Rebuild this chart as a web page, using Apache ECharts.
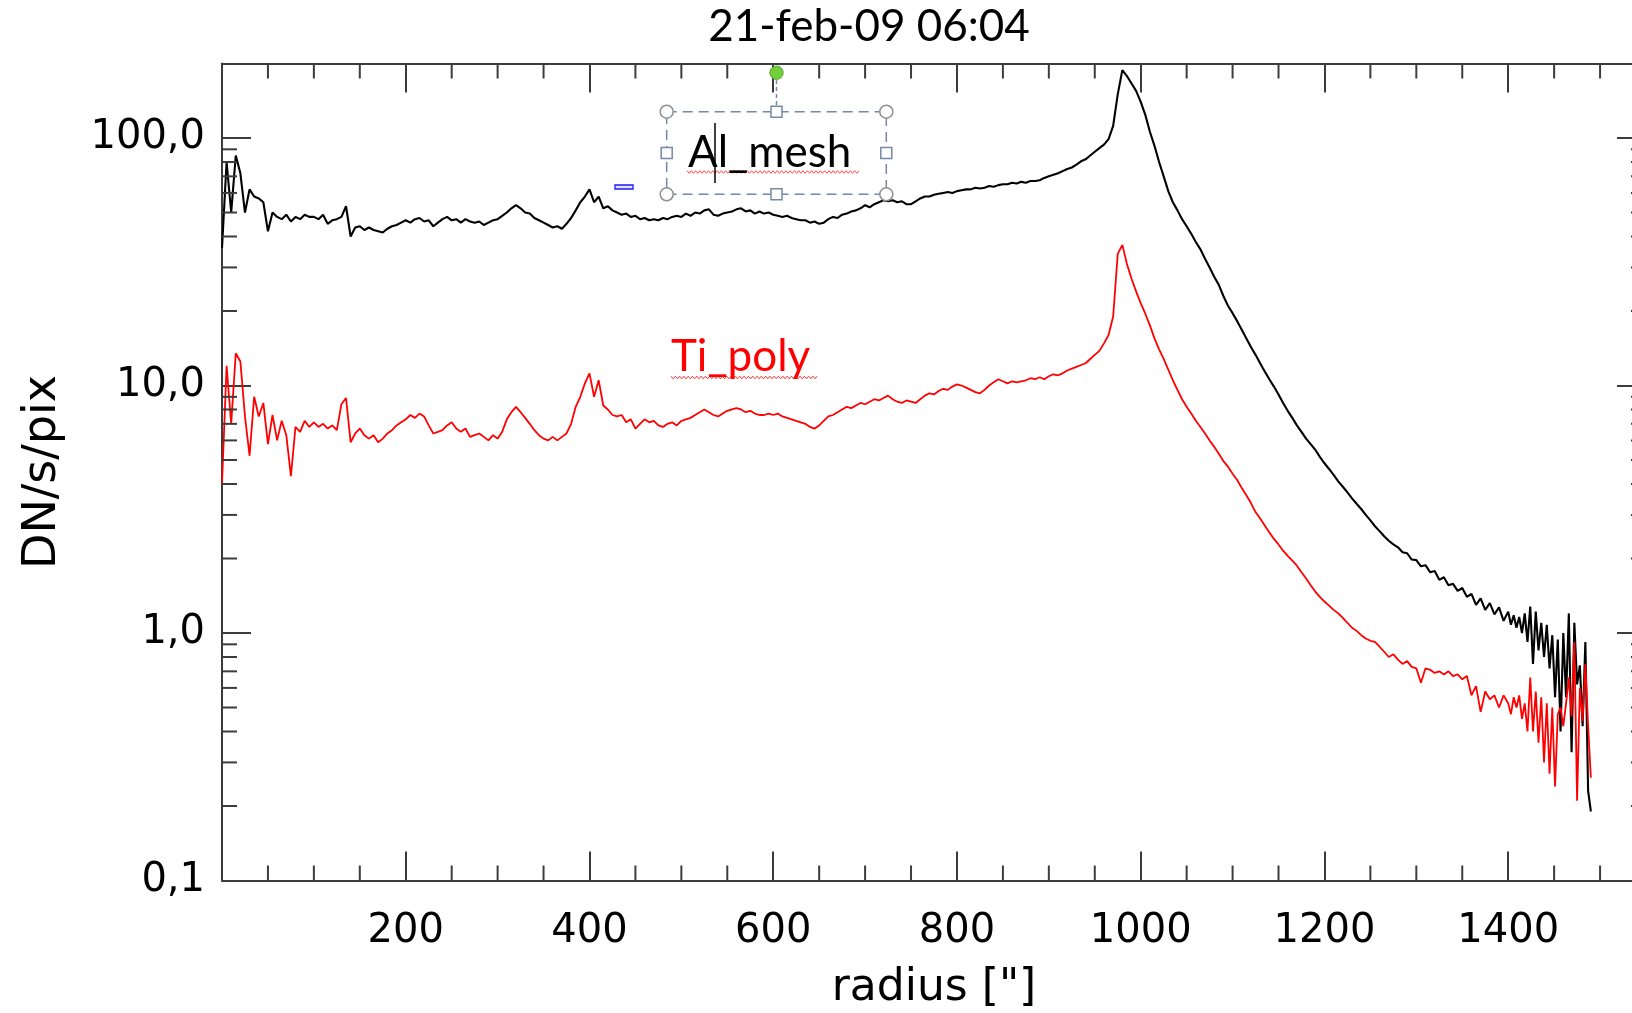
<!DOCTYPE html>
<html><head><meta charset="utf-8">
<script src="https://cdn.jsdelivr.net/npm/echarts@6/dist/echarts.min.js"></script>
<style>html,body{margin:0;padding:0;background:#fff}#c{width:1632px;height:1013px}</style>
</head><body><div id="c"></div>
<script>
// radius ["] sample positions
const radius = [
0,5,10,15,20,25,30,35,40,45,50,55,60,65,70,75,80,85,90,95,
100,105,110,115,120,125,130,135,140,145,150,155,160,165,170,175,180,185,190,195,
200,205,210,215,220,225,230,235,240,245,250,255,260,265,270,275,280,285,290,295,
300,305,310,315,320,325,330,335,340,345,350,355,360,365,370,375,380,385,390,395,
400,405,410,415,420,425,430,435,440,445,450,455,460,465,470,475,480,485,490,495,
500,505,510,515,520,525,530,535,540,545,550,555,560,565,570,575,580,585,590,595,
600,605,610,615,620,625,630,635,640,645,650,655,660,665,670,675,680,685,690,695,
700,705,710,715,720,725,730,735,740,745,750,755,760,765,770,775,780,785,790,795,
800,805,810,815,820,825,830,835,840,845,850,855,860,865,870,875,880,885,890,895,
900,905,910,915,920,925,930,935,940,945,950,955,960,965,970,975,980,985,990,995,
1000,1005,1010,1015,1020,1025,1030,1035,1040,1045,1050,1055,1060,1065,1070,1075,1080,1085,1090,1095,
1100,1105,1110,1115,1120,1125,1130,1135,1140,1145,1150,1155,1160,1165,1170,1175,1180,1185,1190,1195,
1200,1205,1210,1215,1220,1225,1230,1235,1240,1245,1250,1255,1260,1265,1270,1275,1280,1285,1290,1295,
1300,1305,1310,1315,1320,1325,1330,1335,1340,1345,1350,1355,1360,1365,1370,1375,1380,1385,1390,1395,
1400,1403,1406,1409,1412,1415,1418,1421,1424,1427,1430,1433,1436,1439,1442,1445,1448,1451,1454,1457,
1460,1463,1466,1469,1472,1475,1478,1481,1484,1487,1490
];
// Al_mesh (black) DN/s/pix
const alMesh = [
36,80,50,85,72,50,62,58,57,55,42,50,48,47,49,46,48,47,49,48,
48,47,49,45,46.5,47,48,53,40,43.5,44,42.5,43.5,42.5,42,41.5,43,44,44.5,45.5,
46.5,45.5,47,47.5,46,46.5,44,45.5,47,48,46.5,47,45.5,47,46,45.5,46,44.5,45.5,46.5,
47,48.5,50,52,53.5,52,50,49.5,47.5,46.5,45.5,44.5,43.5,44,43,45,47.5,51,55,58,
62,55,58,52,53,51,50,49,49.5,48,48.5,47,47.5,46.5,47,46.5,47.5,47,48,48.5,
48,49.5,48.5,50,49.5,51,51.5,49,48.5,49.5,50,50.5,51.5,52,50.5,51,49.5,50.5,49.5,50,
49,48.5,48,48.5,47.5,47,46.5,46.5,45.5,46,45,45.5,47,48,47.5,49,49.5,50.5,51,52,
53.5,52.5,54,55,56,55.5,56,55,55.5,54,54,55.5,57,58,58,59,59.5,60,60.5,60,
61,61.5,62,62,63,62.5,63,64,63.5,64.5,65,65,66,65.5,66.5,66,67,67,67.5,69,
70,71,72,73.5,75,76,78,80.5,82,85,88,91,94,99,112,150,188,178,166,155,
140,124,106,93,80,70,61,55,51,47,44,41,38,35.5,32.5,30,27.5,25.5,23,21,
19.6,18.2,16.8,15.5,14.3,13.3,12.3,11.4,10.6,9.9,9.2,8.5,7.9,7.4,6.9,6.5,6.1,5.8,5.5,5.15,
4.85,4.6,4.35,4.1,3.9,3.7,3.5,3.33,3.17,3.0,2.85,2.7,2.58,2.46,2.36,2.28,2.22,2.12,2.1,1.98,
1.97,1.86,1.88,1.76,1.78,1.64,1.68,1.56,1.58,1.48,1.52,1.4,1.44,1.3,1.38,1.24,1.32,1.19,1.27,1.12,
1.22,1.08,1.18,1.05,1.16,1.0,1.2,0.92,1.28,0.75,1.22,0.85,1.1,0.8,1.08,0.72,0.98,0.55,0.94,0.4,
1.0,0.55,1.2,0.33,1.1,0.62,0.74,0.42,0.92,0.23,0.19
];
// Ti_poly (red) DN/s/pix
const tiPoly = [
4.0,12,7,13.5,12.5,7.5,5.2,9,7.5,8.5,5.8,7.6,6.0,7.2,6.3,4.3,6.8,6.5,7.2,6.8,
7.1,6.8,7.0,6.7,6.9,6.6,8.4,8.9,5.9,6.4,6.7,6.3,6.1,6.3,5.9,6.1,6.4,6.6,6.9,7.1,
7.3,7.6,7.4,7.7,7.5,6.9,6.4,6.5,6.6,6.9,7.1,6.7,6.5,6.7,6.2,6.3,6.4,6.2,6.0,6.3,
6.1,6.5,7.3,7.8,8.2,7.8,7.4,7.0,6.6,6.3,6.1,6.0,6.2,6.0,6.2,6.4,7.0,8.2,9.0,10.2,
11.2,9.0,10.5,8.3,8.0,7.6,7.5,7.6,7.1,7.3,6.7,7.0,7.3,7.1,7.2,6.9,6.8,7.0,7.1,6.9,
7.2,7.3,7.4,7.6,7.8,8.0,7.8,7.6,7.5,7.7,7.9,8.0,8.1,8.0,7.8,7.9,7.7,7.6,7.6,7.7,
7.6,7.7,7.5,7.4,7.3,7.2,7.1,7.0,6.8,6.7,6.9,7.2,7.5,7.6,7.8,8.0,8.2,8.1,8.3,8.5,
8.4,8.6,8.8,8.7,8.9,9.1,8.8,8.6,8.5,8.7,8.6,8.5,8.8,9.1,9.3,9.2,9.5,9.7,9.6,9.9,
10.1,10.0,9.8,9.6,9.4,9.3,9.6,10.0,10.3,10.6,10.4,10.2,10.4,10.3,10.4,10.5,10.7,10.6,10.8,10.6,
10.9,11.1,11.0,11.2,11.5,11.7,11.9,12.1,12.3,12.8,13.3,13.8,14.8,16.0,19,34,37,31,27,24,
21.5,19.5,17.5,15.5,14,12.8,11.6,10.5,9.6,8.8,8.2,7.7,7.2,6.8,6.4,6.0,5.65,5.3,4.95,4.7,
4.4,4.15,3.85,3.6,3.35,3.08,2.9,2.72,2.55,2.4,2.28,2.15,2.05,1.96,1.87,1.76,1.66,1.56,1.47,1.4,
1.34,1.29,1.24,1.2,1.15,1.1,1.05,1.02,0.98,0.95,0.93,0.92,0.88,0.84,0.8,0.82,0.78,0.75,0.77,0.73,
0.72,0.63,0.72,0.71,0.69,0.7,0.68,0.7,0.67,0.68,0.65,0.67,0.56,0.61,0.48,0.58,0.54,0.56,0.5,0.56,
0.52,0.47,0.55,0.5,0.56,0.45,0.52,0.4,0.66,0.4,0.58,0.36,0.55,0.3,0.52,0.27,0.5,0.24,0.47,0.5,
0.42,0.52,0.66,0.46,0.92,0.21,0.6,0.44,0.75,0.42,0.26
];
// axis ticks
const xMinorTicks = [50,100,150,250,300,350,450,500,550,650,700,750,850,900,950,1050,1100,1150,1250,1300,1350,1450,1500];
const yMinorTicks = [0.2,0.3,0.4,0.5,0.6,0.7,0.8,0.9,2,3,4,5,6,7,8,9,20,30,40,50,60,70,80,90];
const yTickLabels = ['0,1','1,0','10,0','100,0'];
const titleText = '21-feb-09 06:04';
const xName = 'radius ["]';
const yName = 'DN/s/pix';
const X_MIN = 0, X_MAX = 1550, Y_MIN = 0.1, Y_MAX = 200;

const AX = '#3c3c3c';
const MAJ = 29, MIN = 15;
const labelFont = {fontFamily:'DejaVu Sans', fontSize:40, color:'#000'};

function wavy(x0, x1, y, amp, color) {
  const pts = []; let k = 0;
  for (let x = x0; x <= x1; x += 2.15) { pts.push([x, y + (k % 2 ? amp : -amp)]); k++; }
  return {type:'polyline', shape:{points:pts}, style:{stroke:color, lineWidth:1, fill:null}, z:100, silent:true};
}
function handleCircle(cx, cy) {
  return {type:'circle', shape:{cx:cx, cy:cy, r:6.5}, style:{fill:'#fff', stroke:'#8f8f8f', lineWidth:1.5}, z:102, silent:true};
}
function handleSquare(cx, cy) {
  return {type:'rect', shape:{x:cx-5.5, y:cy-5.5, width:11, height:11}, style:{fill:'#fff', stroke:'#7489a8', lineWidth:1.5}, z:102, silent:true};
}

const bx0 = 666.7, by0 = 111.7, bx1 = 886.3, by1 = 194.3;
const bmx = (bx0 + bx1) / 2, bmy = (by0 + by1) / 2;

const chart = echarts.init(document.getElementById('c'), null, {renderer:'canvas', width:1632, height:1013});
const axisCommon = {
  min: X_MIN, max: X_MAX, interval: 200, splitLine:{show:false},
  axisLine:{show:true, onZero:false, lineStyle:{color:AX, width:2}},
  axisTick:{show:true, inside:true, length:MAJ, lineStyle:{color:AX, width:2}}
};
const yCommon = {
  type:'log', logBase:10, min:Y_MIN, max:Y_MAX, splitLine:{show:false},
  axisLine:{show:true, onZero:false, lineStyle:{color:AX, width:2}},
  axisTick:{show:true, inside:true, length:MAJ, lineStyle:{color:AX, width:2}}
};

chart.setOption({
  backgroundColor:'#fff',
  animation:false,
  title:{text:titleText, left:864, top:0, textAlign:'center',
    textStyle:{fontFamily:'Lato', fontSize:44, fontWeight:'normal', color:'#000'}},
  grid:{left:222, top:63.5, width:1424, height:817, containLabel:false, outerBoundsMode:'none'},
  xAxis:[
    Object.assign({type:'value', position:'bottom', name:xName, nameLocation:'middle', nameGap:86,
      nameTextStyle:{fontFamily:'DejaVu Sans', fontSize:44, color:'#000'},
      axisLabel:Object.assign({margin:31, showMinLabel:false, showMaxLabel:false,
        formatter:v => (v <= 0 || v > 1400) ? '' : String(v)}, labelFont)}, axisCommon),
    Object.assign({type:'value', position:'top', axisLabel:{show:false}}, axisCommon)
  ],
  yAxis:[
    Object.assign({position:'left', name:yName, nameLocation:'middle', nameGap:156, nameRotate:90,
      nameTextStyle:{fontFamily:'DejaVu Sans', fontSize:46, color:'#000'},
      axisLabel:Object.assign({margin:17, showMaxLabel:false, formatter:v => {
        const e = Math.log10(v); const r = Math.round(e);
        if (Math.abs(e - r) > 0.01 || r < -1 || r > 2) return '';
        return yTickLabels[r + 1];
      }}, labelFont)}, yCommon),
    Object.assign({position:'right', axisLabel:{show:false}}, yCommon)
  ],
  series:[
    {name:'Al_mesh', type:'line', xAxisIndex:0, yAxisIndex:0, showSymbol:false, symbol:'none',
     data: radius.map((r, i) => [r, alMesh[i]]), lineStyle:{color:'#000', width:2.1}, z:3, silent:true},
    {name:'Ti_poly', type:'line', xAxisIndex:0, yAxisIndex:0, showSymbol:false, symbol:'none',
     data: radius.map((r, i) => [r, tiPoly[i]]), lineStyle:{color:'#ff0000', width:1.8}, z:4, silent:true},
    {type:'custom', coordinateSystem:'cartesian2d', xAxisIndex:0, yAxisIndex:0, clip:false, silent:true, z:6,
     data: xMinorTicks.map(v => [v, 1]),
     renderItem:(params, api) => {
       const v = api.value(0);
       const b = api.coord([v, Y_MIN]); const t = api.coord([v, Y_MAX]);
       return {type:'group', children:[
         {type:'line', shape:{x1:b[0], y1:b[1], x2:b[0], y2:b[1]-MIN}, style:{stroke:AX, lineWidth:2}},
         {type:'line', shape:{x1:t[0], y1:t[1], x2:t[0], y2:t[1]+MIN}, style:{stroke:AX, lineWidth:2}}
       ]};
     }},
    {type:'custom', coordinateSystem:'cartesian2d', xAxisIndex:0, yAxisIndex:0, clip:false, silent:true, z:6,
     data: yMinorTicks.map(v => [X_MIN, v]),
     renderItem:(params, api) => {
       const v = api.value(1);
       const l = api.coord([X_MIN, v]); const r = api.coord([X_MAX, v]);
       return {type:'group', children:[
         {type:'line', shape:{x1:l[0], y1:l[1], x2:l[0]+MIN, y2:l[1]}, style:{stroke:AX, lineWidth:2}},
         {type:'line', shape:{x1:r[0], y1:r[1], x2:r[0]-MIN, y2:r[1]}, style:{stroke:AX, lineWidth:2}}
       ]};
     }}
  ],
  graphic:[
    {type:'rect', shape:{x:bx0, y:by0, width:bx1-bx0, height:by1-by0}, style:{fill:null, stroke:'#7489a8', lineWidth:1.5, lineDash:[10,6]}, z:100, silent:true},
    {type:'line', shape:{x1:bmx, y1:80, x2:bmx, y2:by0-6}, style:{stroke:'#7489a8', lineWidth:1.5, lineDash:[4,3]}, z:100, silent:true},
    {type:'circle', shape:{cx:bmx, cy:72.7, r:6.7}, style:{fill:'#72cf3a', stroke:'#5b9f3a', lineWidth:1}, z:102, silent:true},
    handleCircle(bx0, by0), handleCircle(bx1, by0), handleCircle(bx0, by1), handleCircle(bx1, by1),
    handleSquare(bmx, by0), handleSquare(bmx, by1), handleSquare(bx0, bmy), handleSquare(bx1, bmy),
    {type:'text', x:688, y:152.5, style:{text:'Al_mesh', fontFamily:'Lato', fontSize:44, fill:'#000', verticalAlign:'middle', align:'left'}, z:101, silent:true},
    wavy(687, 860, 172, 1.3, '#ff4a4a'),
    {type:'line', shape:{x1:715, y1:123, x2:715, y2:183}, style:{stroke:'#000', lineWidth:1.5}, z:103, silent:true},
    {type:'rect', shape:{x:615, y:185, width:18, height:4}, style:{fill:'#dfe3ff', stroke:'#1a1aff', lineWidth:1.3}, z:100, silent:true},
    {type:'text', x:671, y:356.7, style:{text:'Ti_poly', fontFamily:'Lato', fontSize:44, fill:'#ff0000', verticalAlign:'middle', align:'left'}, z:101, silent:true},
    wavy(671, 818, 377.5, 1.3, '#ff3030')
  ]
});
</script></body></html>
